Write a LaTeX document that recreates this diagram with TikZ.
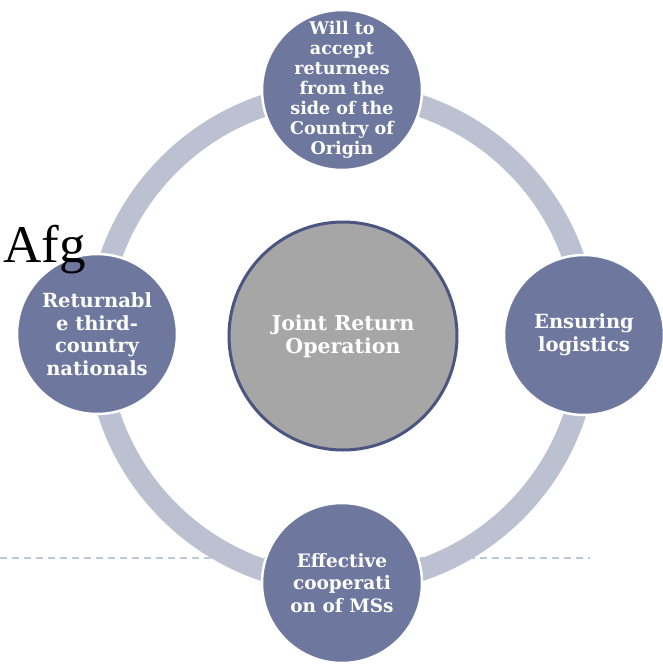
\documentclass[tikz,border=0pt]{standalone}
\usepackage{fontspec}
\setmainfont{DejaVu Serif}
\newfontfamily\afgfont{Liberation Serif}
\definecolor{ringcol}{HTML}{BCC1D2}
\definecolor{nodecol}{HTML}{6E789F}
\definecolor{centercol}{HTML}{A6A6A6}
\definecolor{centerline}{HTML}{4B5580}
\definecolor{dashcol}{HTML}{B9CBDB}
\begin{document}
\begin{tikzpicture}[x=1pt,y=-1pt,
  outer/.style={circle, minimum size=160pt, inner sep=0pt, fill=nodecol, draw=white, line width=2.5pt,
    text=white, align=center, font=\bfseries\fontsize{19.5}{22.5}\selectfont},
  hub/.style={circle, minimum size=228pt, inner sep=0pt, fill=centercol, draw=centerline, line width=3pt,
    text=white, align=center, font=\bfseries\fontsize{20.5}{23}\selectfont}]
\useasboundingbox (0,0) rectangle (663,665);
\draw[dashcol, line width=1.3pt, dash pattern=on 7pt off 5pt] (0,558) -- (590,558);
\draw[ringcol, line width=22pt] (342,338) circle[radius=245pt];
\node[hub] (c) at (343,336) {Joint Return\\Operation};
\node[outer, inner sep=-20pt, font=\bfseries\fontsize{17.5}{20}\selectfont] (t) at (342,90) {Will to\\accept\\returnees\\from the\\side of the\\Country of\\Origin};
\node[outer] (r) at (584,335) {Ensuring\\logistics};
\node[outer] (l) at (97,334) {Returnabl\\e third-\\country\\nationals};
\node[outer, font=\bfseries\fontsize{18.5}{22.5}\selectfont] (b) at (342,583) {Effective\\cooperati\\on of MSs};
\node[anchor=base west, inner sep=0pt, font=\afgfont\fontsize{53}{53}\selectfont] (afg) at (3,262) {Afg};
\end{tikzpicture}
\end{document}
